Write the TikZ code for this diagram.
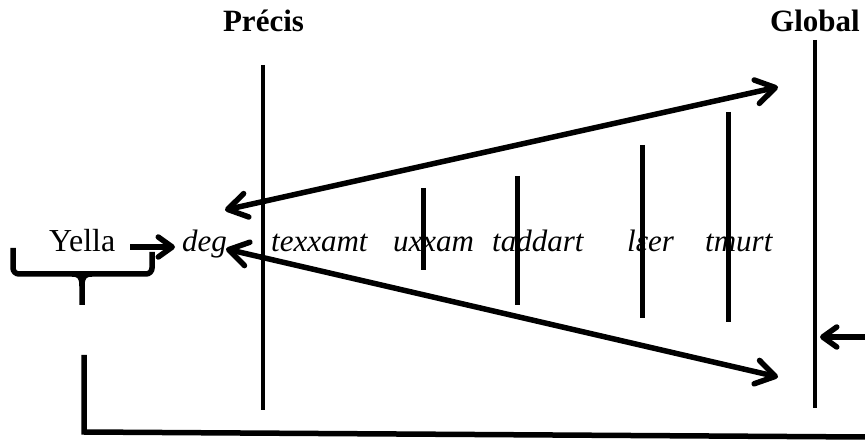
\documentclass[tikz,border=0pt]{standalone}
\usepackage{fontspec}
\setmainfont{Liberation Serif}
\usetikzlibrary{arrows.meta}
\begin{document}
\begin{tikzpicture}[x=1pt,y=-1pt,
  txt/.style={inner sep=0pt,anchor=base west,font=\fontsize{32}{36}\selectfont},
  itx/.style={inner sep=0pt,anchor=base west,font=\fontsize{31}{36}\selectfont\itshape},
  hd/.style={inner sep=0pt,anchor=base,font=\fontsize{31}{36}\selectfont\bfseries},
  bar/.style={line width=4.5pt},
  tick/.style={line width=5pt},
  mybarb/.tip={Straight Barb[length=19pt,width=24pt,line cap=round,line join=round]},
  mysbarb/.tip={Straight Barb[length=14pt,width=20pt,line cap=round,line join=round]},
  arr/.style={line width=5.5pt,line cap=round,{mybarb}-{mybarb}},
  sarr/.style={line width=5.5pt,-{mysbarb}},
  brace/.style={line width=5.5pt,rounded corners=6pt}
]
\useasboundingbox (0,0) rectangle (865,443);
% headings
\node[hd] (precis) at (263.5,32) {Précis};
\node[hd] (global) at (815,32) {Global};
% main vertical lines
\coordinate (pt) at (263,65); \coordinate (pb) at (263,410);
\coordinate (gt) at (815,40); \coordinate (gb) at (815,408);
\draw[bar] (pt) -- (pb);
\draw[bar] (gt) -- (gb);
% words
\node[txt] (yella) at (49,252) {Yella};
\node[itx] (deg) at (182,252) {deg};
\node[itx] (texxamt) at (271,252) {texxamt};
\node[itx] (uxxam) at (393,252) {uxxam};
\node[itx] (taddart) at (492,252) {taddart};
\node[itx] (lerr) at (627,252) {lɛer};
\node[itx] (tmurt) at (705,252) {tmurt};
% short vertical ticks
\coordinate (a1) at (423,188); \coordinate (b1) at (423,270);
\coordinate (a2) at (517,176); \coordinate (b2) at (517,305);
\coordinate (a3) at (642,145); \coordinate (b3) at (642,318);
\coordinate (a4) at (728,112); \coordinate (b4) at (728,322);
\draw[tick] (a1) -- (b1);
\draw[tick] (a2) -- (b2);
\draw[tick] (a3) -- (b3);
\draw[tick] (a4) -- (b4);
% double arrows
\coordinate (ul) at (225,210); \coordinate (ur) at (778,87);
\coordinate (ll) at (226,249); \coordinate (lr) at (778,377);
\draw[arr] (ul) -- (ur);
\draw[arr] (ll) -- (lr);
% Yella -> deg
\coordinate (ys) at (130,247); \coordinate (ye) at (175,247);
\draw[sarr] (ys) -- (ye);
% brace
\coordinate (bl) at (13,248); \coordinate (br) at (152,252);
\draw[brace] (bl) -- (13,274) -- (152,274) -- (br);
\draw[line width=5.5pt] (72,274) .. controls (80,274) and (82,277) .. (82,286) -- (82,305);
\draw[line width=5.5pt] (92,274) .. controls (84,274) and (82,277) .. (82,286);
% bottom L line
\coordinate (ls) at (84,355); \coordinate (lc) at (84,432); \coordinate (le) at (865,437);
\draw[line width=5.5pt] (ls) -- (lc) -- (le);
% arrow into Global line
\coordinate (rs) at (865,337); \coordinate (re) at (820,337);
\draw[sarr] (rs) -- (re);
\end{tikzpicture}
\end{document}
